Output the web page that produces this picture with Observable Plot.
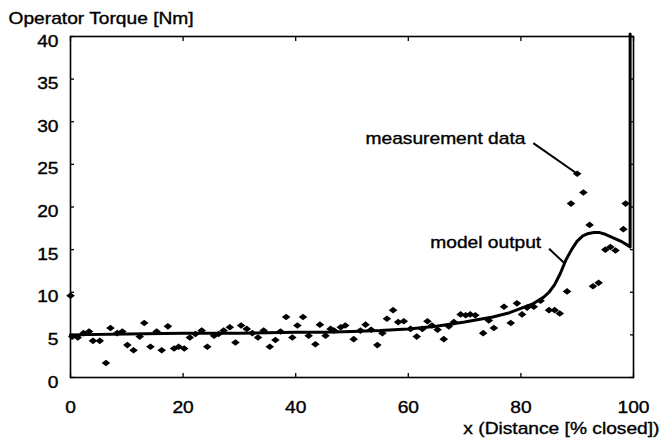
<!DOCTYPE html>
<html>
<head>
<meta charset="utf-8">
<script src="https://cdn.jsdelivr.net/npm/d3@7"></script>
<script src="https://cdn.jsdelivr.net/npm/@observablehq/plot@0.6"></script>
<style>
  html, body { margin: 0; padding: 0; background: #fff; }
  #chart { width: 660px; height: 445px; }
  #chart svg text { stroke: #000; stroke-width: 0.35px; }
</style>
</head>
<body>
<div id="chart"></div>
<script>
// measurement data (diamonds)
const measX = [0, 0.3, 1.3, 2.3, 3.3, 4.0, 5.2, 6.3, 7.1, 8.3, 9.2, 10.1, 11.2, 12.3, 13.1, 14.2, 15.3, 16.2, 17.3, 18.4, 19.2, 20.2, 21.2, 22.2, 23.3, 24.3, 25.5, 26.3, 27.2, 28.3, 29.3, 30.3, 31.3, 32.3, 33.3, 34.3, 35.4, 36.4, 37.3, 38.3, 39.4, 40.3, 41.3, 42.3, 43.5, 44.3, 45.3, 46.2, 46.8, 48.0, 48.8, 50.3, 51.5, 52.4, 53.4, 54.5, 55.4, 56.2, 57.3, 58.2, 59.2, 60.4, 61.5, 62.5, 63.4, 64.2, 65.2, 66.3, 67.2, 68.1, 69.3, 70.2, 71.0, 71.9, 73.3, 74.3, 75.2, 77.0, 78.2, 79.3, 80.2, 81.1, 82.3, 83.5, 85.0, 86.0, 86.9, 88.2, 88.9, 90.0, 91.1, 92.2, 92.8, 93.8, 95.0, 95.9, 96.8, 98.2, 98.6];
const measY = [9.6, 4.8, 4.7, 5.2, 5.4, 4.3, 4.3, 1.7, 5.8, 5.2, 5.4, 3.8, 3.2, 4.8, 6.4, 3.6, 5.4, 3.2, 6.0, 3.4, 3.6, 3.4, 4.7, 5.1, 5.5, 3.6, 4.9, 5.1, 5.5, 5.9, 4.1, 6.1, 5.7, 5.2, 4.7, 5.5, 3.6, 4.4, 5.4, 7.1, 4.7, 6.1, 7.1, 4.9, 3.9, 6.2, 4.9, 5.7, 5.5, 5.9, 6.1, 4.5, 5.5, 6.2, 5.6, 3.8, 5.2, 6.9, 7.9, 6.5, 6.6, 5.7, 4.8, 5.7, 6.6, 6.1, 5.6, 4.5, 6.0, 6.5, 7.4, 7.3, 7.4, 7.3, 5.2, 6.7, 5.8, 8.3, 6.4, 8.7, 7.4, 8.2, 8.3, 9.0, 7.9, 7.9, 7.5, 10.1, 20.4, 23.9, 21.7, 17.9, 10.7, 11.1, 15.0, 15.3, 14.9, 17.4, 20.4];

// model output (solid curve, ending in a vertical spike)
const modelX = [0, 10, 20, 30, 40, 45, 50, 55, 60, 65, 70, 75, 78, 80, 82, 84, 85, 86, 87, 88, 89, 90, 91, 92, 93, 94, 95, 96, 97, 98, 99, 99.4, 99.4];
const modelY = [5.0, 5.1, 5.2, 5.2, 5.3, 5.3, 5.4, 5.5, 5.7, 6.0, 6.5, 7.1, 7.6, 8.1, 8.6, 9.4, 10.0, 10.9, 12.2, 13.8, 15.0, 16.0, 16.6, 16.9, 17.0, 17.0, 16.8, 16.5, 16.2, 15.9, 15.5, 15.3, 40.3];

// axis ticks
const xTicks = [0, 20, 40, 60, 80, 100];
const yTicks = [0, 5, 10, 15, 20, 25, 30, 35, 40];

// labels
const yTitle = "Operator Torque [Nm]";
const xTitle = "x (Distance [% closed])";
const annoText = ["measurement data", "model output"];
const annoX = [52.4, 63.9];
const annoY = [28.0, 15.8];
const leaderX1 = [82.2, 85.0];
const leaderY1 = [27.5, 15.1];
const leaderX2 = [90.0, 87.6];
const leaderY2 = [23.9, 13.5];

const meas = measX.map((x, i) => ({x, y: measY[i]}));
const model = modelX.map((x, i) => ({x, y: modelY[i]}));
const annos = annoText.map((t, i) => ({t, x: annoX[i], y: annoY[i]}));
const leaders = leaderX1.map((x1, i) => ({x1, y1: leaderY1[i], x2: leaderX2[i], y2: leaderY2[i]}));

const wideDiamond = {
  draw(ctx) {
    const w = 4.3, h = 3.3;
    ctx.moveTo(-w, 0); ctx.lineTo(0, -h); ctx.lineTo(w, 0); ctx.lineTo(0, h); ctx.closePath();
  }
};

const FS = 16;
const chart = Plot.plot({
  width: 660,
  height: 445,
  marginLeft: 70,
  marginRight: 27,
  marginTop: 36,
  marginBottom: 68,
  style: {fontFamily: "'Liberation Sans', Arial, Helvetica, sans-serif", fontSize: FS + "px", color: "#000", background: "#fff"},
  x: {domain: [0, 100]},
  y: {domain: [0, 40]},
  marks: [
    Plot.frame({stroke: "#000", strokeWidth: 1.6}),
    // inward ticks on all four sides
    Plot.axisX({anchor: "bottom", ticks: xTicks, tickSize: -4, tickFormat: () => "", label: null, strokeWidth: 1.3}),
    Plot.axisX({anchor: "top", ticks: xTicks, tickSize: -4, tickFormat: () => "", label: null, strokeWidth: 1.3}),
    Plot.axisY({anchor: "left", ticks: yTicks, tickSize: -4, tickFormat: () => "", label: null, strokeWidth: 1.3}),
    Plot.axisY({anchor: "right", ticks: yTicks, tickSize: -4, tickFormat: () => "", label: null, strokeWidth: 1.3}),
    // tick labels
    Plot.axisX({anchor: "bottom", ticks: xTicks, tickSize: 0, tickPadding: 24, label: null, fontSize: FS}),
    Plot.axisY({anchor: "left", ticks: yTicks, tickSize: 0, tickPadding: 12, dy: 5, label: null, fontSize: FS}),
    // model curve
    Plot.line(model, {x: "x", y: "y", stroke: "#000", strokeWidth: 3, curve: "linear", clip: false}),
    // measurement diamonds
    Plot.dot(meas, {x: "x", y: "y", symbol: wideDiamond, fill: "#000", stroke: "none"}),
    // annotations
    Plot.link(leaders, {x1: "x1", y1: "y1", x2: "x2", y2: "y2", stroke: "#000", strokeWidth: 2}),
    Plot.text(annos, {x: "x", y: "y", text: "t", textAnchor: "start", lineAnchor: "middle", fontSize: FS, fill: "#000"}),
    // axis titles
    Plot.text([yTitle], {frameAnchor: "top-left", textAnchor: "start", lineAnchor: "middle", dx: -62, dy: -18, fontSize: FS, fill: "#000"}),
    Plot.text([xTitle], {frameAnchor: "bottom-right", textAnchor: "end", lineAnchor: "middle", dx: 26, dy: 51, fontSize: FS, fill: "#000"})
  ]
});

// the reference type is horizontally stretched: widen glyphs around their anchor point
const SX = 1.2;
chart.querySelectorAll("text").forEach(t => {
  const xa = t.getAttribute("x");
  const x = (xa && /^-?[\d.]+$/.test(xa)) ? +xa : 0;
  const tr = t.getAttribute("transform") || "";
  t.setAttribute("transform", `${tr} translate(${x},0) scale(${SX},1) translate(${-x},0)`.trim());
});

document.getElementById("chart").appendChild(chart);
</script>
</body>
</html>
